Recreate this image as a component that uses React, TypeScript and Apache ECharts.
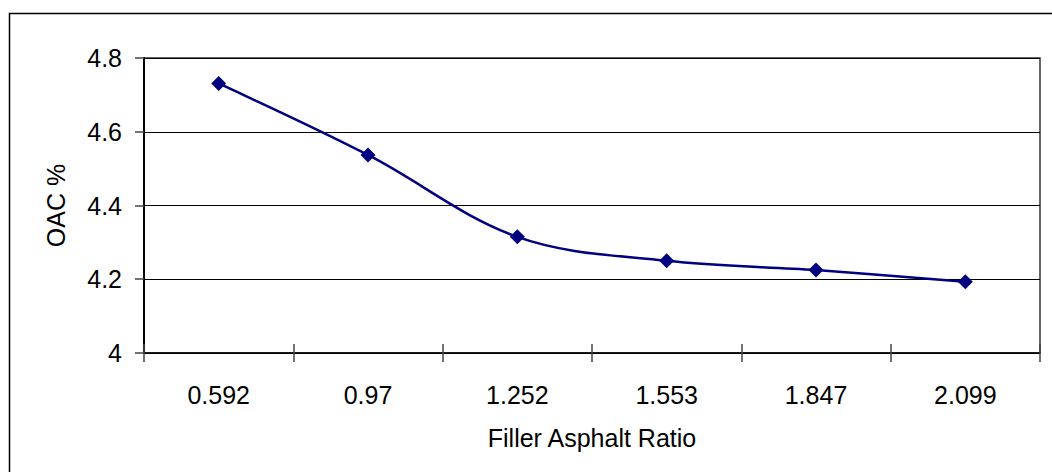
import React, { useEffect, useRef } from "react";
import * as echarts from "echarts";

const categories = ["0.592", "0.97", "1.252", "1.553", "1.847", "2.099"];
const oacValues = [4.731, 4.537, 4.315, 4.25, 4.225, 4.193];
const yTicks = { min: 4, max: 4.8, interval: 0.2 };

const FONT = "Liberation Sans, Arial, sans-serif";
const FS = 25;

export default function App() {
  const ref = useRef<HTMLDivElement>(null);
  useEffect(() => {
    if (!ref.current) return;
    const chart = echarts.init(ref.current, null, { renderer: "svg" });
    chart.setOption({
      animation: false,
      backgroundColor: "#ffffff",
      textStyle: { fontFamily: FONT },
      graphic: [
        {
          type: "polyline",
          shape: { points: [[9.5, 480], [9.5, 13.5], [1060, 13.5]] },
          style: { stroke: "#000", lineWidth: 1.5, fill: "none" },
          silent: true,
        },
      ],
      grid: {
        left: 144,
        right: 12,
        top: 58,
        bottom: 119,
        show: true,
        borderColor: "#333",
        borderWidth: 1.5,
        backgroundColor: "transparent",
      },
      xAxis: [
        {
          type: "category",
          data: categories,
          boundaryGap: true,
          name: "Filler Asphalt Ratio",
          nameLocation: "middle",
          nameGap: 72,
          nameTextStyle: { fontSize: FS, color: "#000", fontFamily: FONT },
          axisLine: { lineStyle: { color: "#000", width: 1.5 } },
          axisTick: { show: true, alignWithLabel: false, length: 9, lineStyle: { color: "#444", width: 1.5 } },
          axisLabel: { fontSize: FS, color: "#000", margin: 29, fontFamily: FONT },
          splitLine: { show: false },
        },
        {
          type: "category",
          data: categories,
          position: "bottom",
          boundaryGap: true,
          axisLine: { show: false },
          axisTick: { show: true, inside: true, length: 9, lineStyle: { color: "#444", width: 1.5 } },
          axisLabel: { show: false },
          splitLine: { show: false },
        },
      ],
      yAxis: {
        type: "value",
        min: yTicks.min,
        max: yTicks.max,
        interval: yTicks.interval,
        name: "OAC %",
        nameLocation: "middle",
        nameRotate: 90,
        nameGap: 76,
        nameTextStyle: { fontSize: FS, color: "#000", fontFamily: FONT },
        axisLine: { show: true, lineStyle: { color: "#000", width: 2 } },
        axisTick: { show: true, length: 9, lineStyle: { color: "#444", width: 1.5 } },
        axisLabel: { fontSize: FS, color: "#000", margin: 22, fontFamily: FONT },
        splitLine: { show: true, lineStyle: { color: "#000", width: 1.2 } },
      },
      series: [
        {
          type: "line",
          data: oacValues,
          smooth: 0.35,
          symbol: "diamond",
          symbolSize: 15,
          lineStyle: { color: "#000080", width: 2.5 },
          itemStyle: { color: "#000080" },
        },
      ],
    });
    return () => chart.dispose();
  }, []);
  return (
    <div
      ref={ref}
      style={{ position: "absolute", left: 0, top: 0, width: 1052, height: 472 }}
    />
  );
}
